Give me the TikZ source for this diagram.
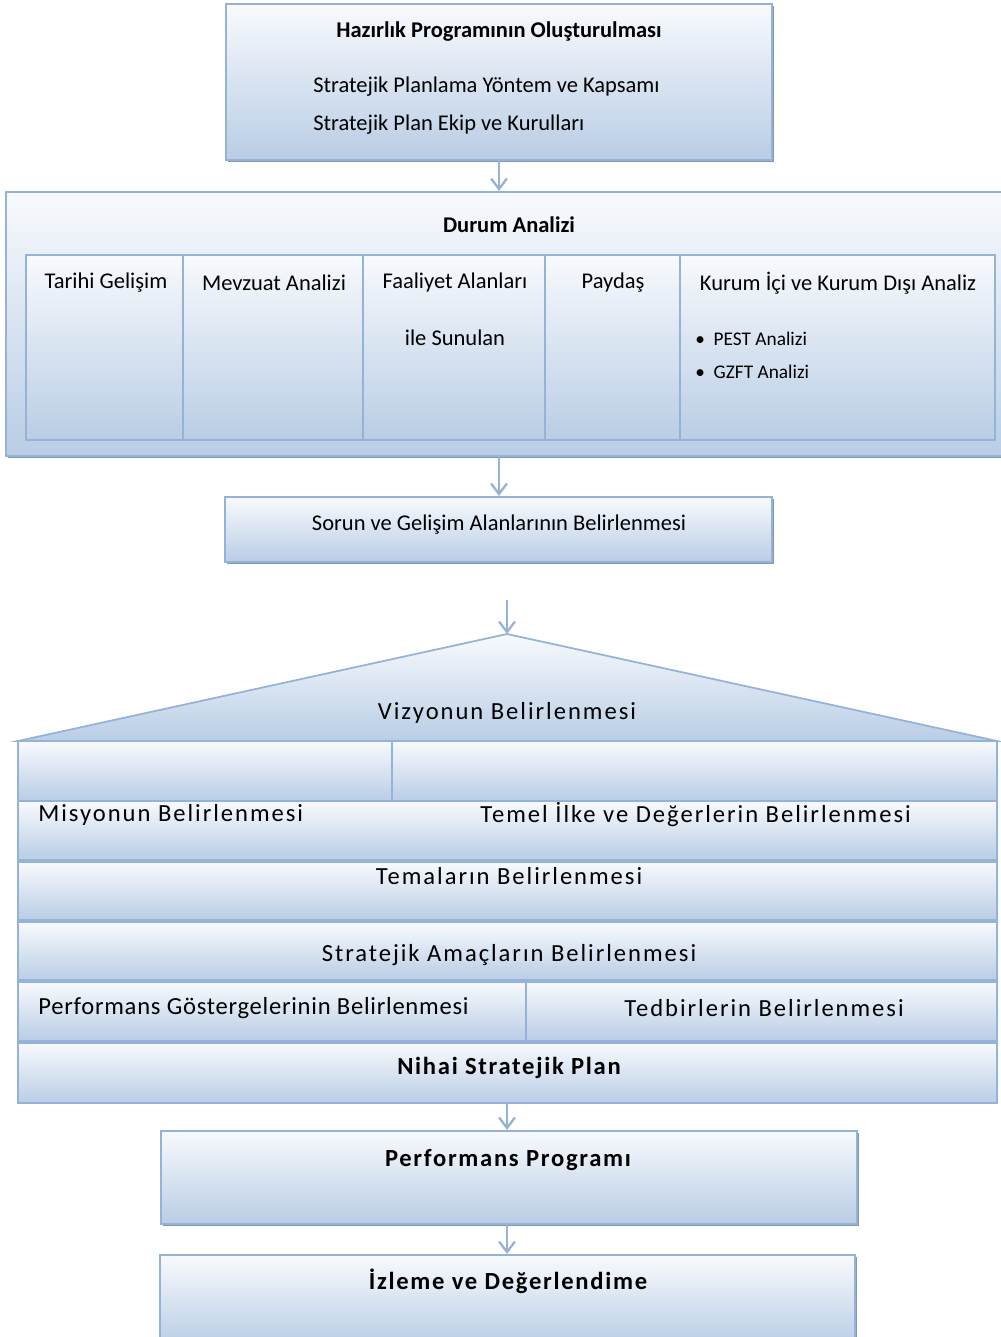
\documentclass[tikz,border=0pt]{standalone}
\usepackage{fontspec}
\setmainfont{Carlito}
\usetikzlibrary{fit,arrows.meta,shadows}
\definecolor{boxline}{HTML}{95B3D7}
\definecolor{boxtop}{HTML}{F8FAFD}
\definecolor{boxbot}{HTML}{B9CDE5}
\definecolor{shade}{HTML}{8497B0}
\tikzset{
  box/.style={draw=boxline, line width=1.2pt, top color=boxtop, bottom color=boxbot, inner sep=0pt},
  cell/.style={box, line width=0.9pt},
  shbox/.style={box, drop shadow={shadow xshift=1.2pt, shadow yshift=-1.2pt, fill=shade, opacity=1}},
  flow/.style={draw=boxline, line width=1.3pt, -{Straight Barb[length=6pt,width=9pt]}},
  lbl/.style={font=\fontsize{12.8}{15}\selectfont, inner sep=0pt},
  ttl/.style={lbl, font=\fontsize{12.8}{15}\selectfont\bfseries},
  lowl/.style={inner sep=0pt, font=\fontsize{14}{16}\selectfont\addfontfeatures{LetterSpace=8}},
  lowt/.style={inner sep=0pt, font=\fontsize{14}{16}\selectfont\bfseries\addfontfeatures{LetterSpace=7}},
}
\begin{document}
\begin{tikzpicture}[x=0.02cm, y=-0.02cm]
\useasboundingbox (0,0) rectangle (1000,1337);
% hazirlik
\node[shbox, fit={(226,4) (772,160)}] (hazirlik) {};
\node[ttl] (hazT) at (499,32) {Hazırlık Programının Oluşturulması};
\node[lbl, anchor=west] (hazA) at (313,87) {Stratejik Planlama Yöntem ve Kapsamı};
\node[lbl, anchor=west] (hazB) at (313,125) {Stratejik Plan Ekip ve Kurulları};
% durum analizi
\node[shbox, fit={(6,192) (1004,456)}] (durum) {};
\node[ttl] (durT) at (509,225) {Durum Analizi};
\foreach \a/\b/\n in {26/183/c1, 183/363/c2, 363/545/c3, 545/680/c4, 680/995/c5}
  \node[cell, fit={(\a,255) (\b,440)}] (\n) {};
\node[lbl] (tarihi) at (106,283) {Tarihi Gelişim};
\node[lbl] (mevzuat) at (274,283) {Mevzuat Analizi};
\node[lbl] (faal) at (455,283) {Faaliyet Alanları};
\node[lbl] (sunulan) at (455,338) {ile Sunulan};
\node[lbl] (paydas) at (613,283) {Paydaş};
\node[lbl] (kurum) at (838,283) {Kurum İçi ve Kurum Dışı Analiz};
\node[lbl, anchor=west, font=\fontsize{11}{13}\selectfont] (pest) at (695,339) {\textbullet\ \ PEST Analizi};
\node[lbl, anchor=west, font=\fontsize{11}{13}\selectfont] (gzft) at (695,372) {\textbullet\ \ GZFT Analizi};
% sorun
\node[shbox, fit={(225,497) (772,562)}] (sorun) {};
\node[lbl] (sorT) at (499,525) {Sorun ve Gelişim Alanlarının Belirlenmesi};
% vizyon
\coordinate (vbas) at (507,600);
\coordinate (tepe) at (507,634);
\draw[box, line width=1pt] (18,741) -- (tepe) -- (997,741) -- cycle;
\node[lowl] (vizyon) at (507,713) {Vizyonun Belirlenmesi};
% katmanlar
\node[cell, fit={(18,741) (392,801)}] (misA) {};
\node[cell, fit={(392,741) (997,801)}] (temA) {};
\node[cell, fit={(18,801) (997,860)}] (misB) {};
\node[lowl, anchor=west] (misyon) at (38,815) {Misyonun Belirlenmesi};
\node[lowl, anchor=west] (ilke) at (480,815) {Temel İlke ve Değerlerin Belirlenmesi};
\node[cell, fit={(18,862) (997,920)}] (tema) {};
\node[lowl] (temaT) at (509,876) {Temaların Belirlenmesi};
\node[cell, fit={(18,922) (997,980)}] (amac) {};
\node[lowl] (amacT) at (509,955) {Stratejik Amaçların Belirlenmesi};
\node[cell, fit={(18,982) (526,1041)}] (gost) {};
\node[cell, fit={(526,982) (997,1041)}] (tedb) {};
\node[lowl, anchor=west, font=\fontsize{14}{16}\selectfont\addfontfeatures{LetterSpace=3}] (gostT) at (38,1008) {Performans Göstergelerinin Belirlenmesi};
\node[lowl] (tedbT) at (764,1008) {Tedbirlerin Belirlenmesi};
\node[cell, fit={(18,1043) (997,1103)}] (nihai) {};
\node[lowt] (nihaiT) at (509,1068) {Nihai Stratejik Plan};
% performans ve izleme
\node[shbox, fit={(161,1131) (857,1224)}] (perf) {};
\node[lowt] (perfT) at (508,1160) {Performans Programı};
\node[shbox, fit={(160,1255) (855,1345)}] (izleme) {};
\node[lowt] (izlT) at (508,1281) {İzleme ve Değerlendime};
% oklar
\draw[flow] (hazirlik.south) -- (hazirlik.south |- durum.north);
\draw[flow] (hazirlik.south |- durum.south) -- (hazirlik.south |- sorun.north);
\draw[flow] (vbas) -- (tepe);
\draw[flow] (tepe |- nihai.south) -- (tepe |- perf.north);
\draw[flow] (tepe |- perf.south) -- (tepe |- izleme.north);
\end{tikzpicture}
\end{document}
